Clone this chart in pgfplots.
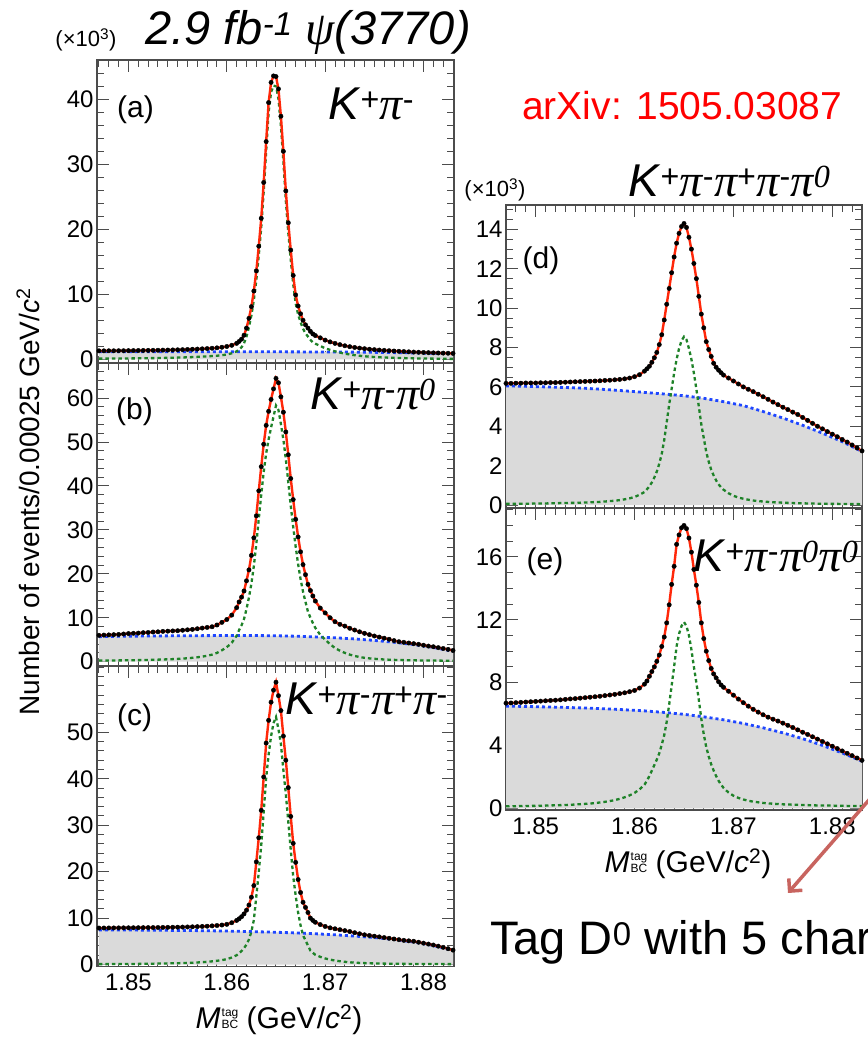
\documentclass[border=0pt]{standalone}
\usepackage{fontspec}
\setmainfont{Liberation Sans}
\newfontfamily\serif{Liberation Serif}
\usepackage{pgfplots}
\pgfplotsset{compat=1.18}
\usepackage{pgfplotstable}
\usetikzlibrary{arrows.meta}

\definecolor{fitred}{RGB}{255,40,10}
\definecolor{bkgblue}{RGB}{30,70,255}
\definecolor{siggreen}{RGB}{30,130,40}
\definecolor{bkgfill}{RGB}{218,218,218}
\definecolor{arxivred}{RGB}{255,0,0}
\definecolor{arrowred}{RGB}{200,100,95}

\newcommand{\sKp}{\textit{K}\textsuperscript{+}}
\newcommand{\spi}[1]{{\serif\itshape π}\textsuperscript{#1}}
\newcommand{\zr}{{\serif\itshape 0}}
\newcommand{\Mbc}{\textit{M}\kern1pt\makebox[0pt][l]{\raisebox{12pt}{\fontsize{12}{12}\selectfont tag}}{\fontsize{12}{12}\selectfont BC}}

% ---------------- panel (a) ----------------
\pgfplotstableread{
x R G
1.8470 1.30 0.10
1.8475 1.30 0.10
1.8480 1.31 0.11
1.8485 1.31 0.11
1.8490 1.32 0.12
1.8495 1.32 0.12
1.8500 1.33 0.13
1.8505 1.34 0.14
1.8510 1.35 0.15
1.8515 1.36 0.16
1.8520 1.37 0.17
1.8525 1.38 0.18
1.8530 1.39 0.19
1.8535 1.41 0.21
1.8540 1.42 0.22
1.8545 1.44 0.24
1.8550 1.46 0.26
1.8555 1.48 0.28
1.8560 1.51 0.31
1.8565 1.54 0.34
1.8570 1.57 0.37
1.8575 1.61 0.41
1.8580 1.65 0.45
1.8585 1.70 0.50
1.8590 1.76 0.55
1.8595 1.85 0.62
1.8600 1.97 0.74
1.8605 2.15 0.92
1.8610 2.45 1.22
1.86125 2.75 1.50
1.8615 3.10 1.85
1.86175 3.70 2.45
1.8620 4.80 3.50
1.86225 6.30 4.95
1.8625 8.10 6.75
1.86275 10.5 9.15
1.8630 13.6 12.2
1.86325 17.4 16.0
1.8635 21.7 20.3
1.86375 27.2 25.8
1.8640 33.5 32.0
1.86425 39.5 38.0
1.8645 42.6 41.1
1.86475 43.6 42.1
1.8650 43.5 42.0
1.86525 41.6 40.1
1.8655 37.4 35.9
1.86575 32.0 30.5
1.8660 25.9 24.4
1.86625 21.0 19.5
1.8665 16.8 15.3
1.86675 12.9 11.6
1.8670 9.9 8.6
1.86725 8.2 6.9
1.8675 7.0 5.7
1.86775 6.0 4.7
1.8680 5.3 4.0
1.86825 4.8 3.5
1.8685 4.3 3.0
1.86875 3.9 2.6
1.8690 3.65 2.40
1.8695 3.30 2.05
1.8700 2.95 1.70
1.8705 2.68 1.45
1.8710 2.45 1.22
1.8715 2.25 1.03
1.8720 2.08 0.87
1.8725 1.94 0.74
1.8730 1.82 0.63
1.8735 1.72 0.54
1.8740 1.63 0.47
1.8745 1.55 0.40
1.8750 1.48 0.35
1.8755 1.42 0.31
1.8760 1.37 0.28
1.8765 1.32 0.25
1.8770 1.27 0.22
1.8775 1.23 0.20
1.8780 1.19 0.18
1.8785 1.15 0.16
1.8790 1.11 0.14
1.8795 1.08 0.13
1.8800 1.05 0.12
1.8805 1.02 0.11
1.8810 0.99 0.10
1.8815 0.97 0.09
1.8820 0.95 0.08
1.8825 0.93 0.07
1.8830 0.91 0.06
}\Ta
\pgfplotstableread{
x B
1.847 1.18
1.849 1.18
1.851 1.18
1.853 1.17
1.855 1.17
1.857 1.17
1.859 1.16
1.861 1.16
1.863 1.16
1.865 1.15
1.867 1.14
1.869 1.13
1.871 1.12
1.873 1.10
1.875 1.07
1.877 1.03
1.879 0.98
1.881 0.93
1.883 0.87
}\Ba

% ---------------- panel (b) ----------------
\pgfplotstableread{
x R G
1.8470 6.00 0.25
1.8475 6.05 0.26
1.8480 6.10 0.27
1.8485 6.15 0.28
1.8490 6.20 0.29
1.8495 6.30 0.30
1.8500 6.40 0.31
1.8505 6.45 0.33
1.8510 6.50 0.35
1.8515 6.60 0.37
1.8520 6.65 0.40
1.8525 6.75 0.43
1.8530 6.80 0.46
1.8535 6.90 0.50
1.8540 6.95 0.54
1.8545 7.00 0.58
1.8550 7.05 0.63
1.8555 7.15 0.70
1.8560 7.25 0.78
1.8565 7.35 0.88
1.8570 7.50 1.00
1.8575 7.65 1.15
1.8580 7.80 1.35
1.8585 7.95 1.60
1.8590 8.35 2.00
1.8595 8.95 2.60
1.8600 9.60 3.30
1.8605 10.6 4.30
1.8610 12.3 5.90
1.86125 13.6 7.2
1.8615 14.7 8.3
1.86175 16.1 9.7
1.8620 18.4 12.0
1.86225 20.9 14.6
1.8625 24.2 17.8
1.86275 28.2 21.8
1.8630 33.2 26.8
1.86325 38.9 32.5
1.8635 44.4 38.0
1.86375 49.5 43.2
1.8640 53.8 47.4
1.86425 57.0 50.6
1.8645 59.7 53.3
1.86475 62.1 55.8
1.8650 64.5 58.3
1.86525 63.5 57.3
1.8655 60.3 54.1
1.86575 56.8 50.6
1.8660 52.3 46.1
1.86625 47.1 40.9
1.8665 41.7 35.5
1.86675 36.9 30.7
1.8670 32.4 26.2
1.86725 28.4 22.2
1.8675 25.0 18.8
1.86775 22.1 15.9
1.8680 19.8 13.6
1.86825 17.6 11.4
1.8685 16.2 10.0
1.86875 14.95 8.8
1.8690 13.8 7.7
1.8695 12.2 6.1
1.8700 11.1 5.0
1.8705 10.0 4.0
1.8710 9.1 3.1
1.8715 8.5 2.5
1.8720 8.1 2.0
1.8725 7.6 1.6
1.8730 7.2 1.30
1.8735 6.8 1.05
1.8740 6.45 0.88
1.8745 6.15 0.75
1.8750 5.85 0.65
1.8755 5.6 0.57
1.8760 5.35 0.50
1.8765 5.1 0.45
1.8770 4.8 0.41
1.8775 4.55 0.38
1.8780 4.4 0.35
1.8785 4.25 0.33
1.8790 4.1 0.31
1.8795 3.95 0.29
1.8800 3.75 0.27
1.8805 3.55 0.26
1.8810 3.4 0.25
1.8815 3.2 0.24
1.8820 3.0 0.23
1.8825 2.8 0.22
1.8830 2.55 0.21
}\Tb
\pgfplotstableread{
x B
1.847 5.70
1.849 5.77
1.851 5.82
1.853 5.86
1.855 5.90
1.857 5.92
1.859 5.94
1.861 5.95
1.863 5.95
1.865 5.90
1.867 5.80
1.869 5.64
1.871 5.44
1.873 5.18
1.875 4.84
1.877 4.42
1.879 3.90
1.881 3.25
1.883 2.38
}\Bb

% ---------------- panel (c) ----------------
\pgfplotstableread{
x R G
1.8470 7.85 0.08
1.8475 7.86 0.08
1.8480 7.87 0.09
1.8485 7.88 0.09
1.8490 7.89 0.10
1.8495 7.90 0.10
1.8500 7.91 0.11
1.8505 7.92 0.12
1.8510 7.93 0.13
1.8515 7.94 0.14
1.8520 7.95 0.16
1.8525 7.96 0.18
1.8530 7.97 0.20
1.8535 7.99 0.22
1.8540 8.00 0.24
1.8545 8.02 0.26
1.8550 8.04 0.28
1.8555 8.06 0.31
1.8560 8.09 0.35
1.8565 8.12 0.39
1.8570 8.16 0.44
1.8575 8.20 0.50
1.8580 8.25 0.58
1.8585 8.32 0.68
1.8590 8.40 0.80
1.8595 8.50 0.95
1.8600 8.65 1.15
1.8605 9.00 1.50
1.8610 9.50 2.00
1.86125 9.85 2.40
1.8615 10.3 2.90
1.86175 10.9 3.50
1.8620 11.7 4.30
1.86225 12.8 5.40
1.8625 14.5 7.10
1.86275 17.0 9.60
1.8630 22.1 14.7
1.86325 27.3 19.9
1.8635 33.2 25.7
1.86375 40.4 32.9
1.8640 47.7 40.2
1.86425 52.6 45.2
1.8645 56.5 49.2
1.86475 59.1 52.0
1.8650 60.8 53.3
1.86525 57.9 50.7
1.8655 54.7 47.5
1.86575 49.2 41.9
1.8660 44.0 36.7
1.86625 38.1 30.8
1.8665 31.9 24.7
1.86675 26.1 19.0
1.8670 22.0 14.9
1.86725 18.3 11.2
1.8675 15.5 8.4
1.86775 13.4 6.3
1.8680 12.3 5.2
1.86825 11.2 4.1
1.8685 10.0 3.0
1.86875 9.5 2.5
1.8690 9.10 2.10
1.8695 8.60 1.65
1.8700 8.20 1.30
1.8705 7.90 1.05
1.8710 7.70 0.85
1.8715 7.50 0.70
1.8720 7.30 0.58
1.8725 7.10 0.48
1.8730 6.85 0.40
1.8735 6.62 0.34
1.8740 6.40 0.30
1.8745 6.25 0.26
1.8750 6.10 0.23
1.8755 5.95 0.21
1.8760 5.80 0.19
1.8765 5.65 0.17
1.8770 5.50 0.16
1.8775 5.35 0.15
1.8780 5.20 0.14
1.8785 5.10 0.13
1.8790 5.00 0.12
1.8795 4.80 0.11
1.8800 4.60 0.11
1.8805 4.40 0.10
1.8810 4.20 0.10
1.8815 3.95 0.09
1.8820 3.70 0.09
1.8825 3.40 0.08
1.8830 3.10 0.08
}\Tc
\pgfplotstableread{
x B
1.847 7.45
1.849 7.43
1.851 7.41
1.853 7.38
1.855 7.34
1.857 7.30
1.859 7.24
1.861 7.16
1.863 7.06
1.865 6.95
1.867 6.80
1.869 6.62
1.871 6.40
1.873 6.12
1.875 5.80
1.877 5.40
1.879 4.85
1.881 4.10
1.883 3.05
}\Bc

% ---------------- panel (d) ----------------
\pgfplotstableread{
x R G
1.8470 6.18 0.06
1.8475 6.18 0.06
1.8480 6.19 0.06
1.8485 6.19 0.07
1.8490 6.20 0.07
1.8495 6.20 0.07
1.8500 6.20 0.08
1.8505 6.21 0.08
1.8510 6.21 0.08
1.8515 6.22 0.09
1.8520 6.22 0.09
1.8525 6.23 0.10
1.8530 6.24 0.10
1.8535 6.25 0.11
1.8540 6.26 0.11
1.8545 6.27 0.12
1.8550 6.28 0.13
1.8555 6.29 0.14
1.8560 6.30 0.15
1.8565 6.31 0.16
1.8570 6.33 0.18
1.8575 6.34 0.20
1.8580 6.36 0.22
1.8585 6.38 0.25
1.8590 6.41 0.29
1.8595 6.45 0.34
1.8600 6.52 0.41
1.8605 6.62 0.52
1.8610 6.80 0.66
1.86125 6.92 0.80
1.8615 7.05 0.95
1.86175 7.25 1.15
1.8620 7.48 1.40
1.86225 7.75 1.70
1.8625 8.15 2.10
1.86275 8.65 2.60
1.8630 9.40 3.30
1.86325 10.2 4.20
1.8635 11.0 5.10
1.86375 11.8 5.90
1.8640 12.6 6.70
1.86425 13.3 7.40
1.8645 13.8 7.95
1.86475 14.15 8.35
1.8650 14.3 8.55
1.86525 14.1 8.40
1.8655 13.6 7.95
1.86575 13.0 7.40
1.8660 12.27 6.70
1.86625 11.5 5.90
1.8665 10.6 5.00
1.86675 9.7 4.10
1.8670 9.0 3.40
1.86725 8.3 2.70
1.8675 7.9 2.20
1.86775 7.55 1.80
1.8680 7.2 1.50
1.86825 7.0 1.25
1.8685 6.85 1.05
1.86875 6.72 0.90
1.8690 6.60 0.78
1.8695 6.45 0.60
1.8700 6.30 0.47
1.8705 6.15 0.38
1.8710 6.00 0.32
1.8715 5.88 0.27
1.8720 5.76 0.23
1.8725 5.63 0.20
1.8730 5.50 0.18
1.8735 5.37 0.16
1.8740 5.23 0.14
1.8745 5.10 0.13
1.8750 4.97 0.12
1.8755 4.85 0.11
1.8760 4.72 0.10
1.8765 4.60 0.09
1.8770 4.45 0.09
1.8775 4.30 0.08
1.8780 4.15 0.08
1.8785 4.00 0.07
1.8790 3.87 0.07
1.8795 3.73 0.06
1.8800 3.60 0.06
1.8805 3.47 0.06
1.8810 3.33 0.05
1.8815 3.20 0.05
1.8820 3.05 0.05
1.8825 2.90 0.05
1.8830 2.75 0.04
}\Td
\pgfplotstableread{
x B
1.847 6.05
1.849 6.03
1.851 6.00
1.853 5.97
1.855 5.93
1.857 5.87
1.859 5.80
1.861 5.72
1.863 5.64
1.865 5.55
1.867 5.42
1.869 5.25
1.871 5.05
1.873 4.75
1.875 4.42
1.877 4.05
1.879 3.65
1.881 3.22
1.883 2.72
}\Bd

% ---------------- panel (e) ----------------
\pgfplotstableread{
x R G
1.8470 6.69 0.125
1.8475 6.70 0.13
1.8480 6.72 0.135
1.8485 6.74 0.14
1.8490 6.76 0.145
1.8495 6.78 0.15
1.8500 6.80 0.155
1.8505 6.82 0.16
1.8510 6.84 0.17
1.8515 6.86 0.18
1.8520 6.88 0.19
1.8525 6.90 0.20
1.8530 6.93 0.21
1.8535 6.96 0.22
1.8540 6.98 0.24
1.8545 7.01 0.26
1.8550 7.04 0.28
1.8555 7.07 0.30
1.8560 7.10 0.33
1.8565 7.13 0.37
1.8570 7.17 0.41
1.8575 7.21 0.46
1.8580 7.25 0.52
1.8585 7.30 0.60
1.8590 7.35 0.70
1.8595 7.42 0.82
1.8600 7.50 0.98
1.8605 7.65 1.20
1.8610 7.90 1.50
1.86125 8.10 1.75
1.8615 8.40 2.05
1.86175 8.70 2.40
1.8620 9.00 2.75
1.86225 9.35 3.10
1.8625 9.75 3.50
1.86275 10.3 4.05
1.8630 10.9 4.65
1.86325 11.8 5.50
1.8635 12.95 6.60
1.86375 14.25 7.80
1.8640 15.4 9.00
1.86425 16.8 10.3
1.8645 17.4 11.1
1.86475 17.85 11.6
1.8650 18.0 11.85
1.86525 17.8 11.6
1.8655 17.2 11.0
1.86575 16.3 10.1
1.8660 15.2 9.0
1.86625 14.2 8.0
1.8665 13.1 6.9
1.86675 11.8 5.7
1.8670 10.8 4.7
1.86725 10.0 3.9
1.8675 9.4 3.3
1.86775 8.9 2.8
1.8680 8.55 2.4
1.86825 8.3 2.05
1.8685 8.05 1.75
1.86875 7.85 1.5
1.8690 7.70 1.30
1.8695 7.45 1.00
1.8700 7.20 0.80
1.8705 6.95 0.66
1.8710 6.72 0.56
1.8715 6.50 0.48
1.8720 6.30 0.42
1.8725 6.12 0.38
1.8730 5.95 0.34
1.8735 5.80 0.31
1.8740 5.67 0.29
1.8745 5.55 0.27
1.8750 5.42 0.25
1.8755 5.28 0.24
1.8760 5.14 0.23
1.8765 4.99 0.22
1.8770 4.84 0.21
1.8775 4.70 0.20
1.8780 4.55 0.19
1.8785 4.40 0.18
1.8790 4.25 0.18
1.8795 4.10 0.17
1.8800 3.95 0.17
1.8805 3.80 0.16
1.8810 3.65 0.16
1.8815 3.50 0.15
1.8820 3.35 0.15
1.8825 3.20 0.15
1.8830 3.05 0.14
}\Te
\pgfplotstableread{
x B
1.847 6.50
1.849 6.48
1.851 6.45
1.853 6.42
1.855 6.38
1.857 6.33
1.859 6.27
1.861 6.20
1.863 6.10
1.865 5.98
1.867 5.82
1.869 5.63
1.871 5.40
1.873 5.12
1.875 4.80
1.877 4.43
1.879 4.00
1.881 3.52
1.883 3.00
}\Be

\pgfplotsset{
  panel/.style={
    scale only axis, anchor=south west,
    axis line style={draw=black!70, line width=1.2pt},
    tick style={black!70, line width=1pt},
    tick align=inside, xtick pos=both, ytick pos=both,
    major tick length=12pt, minor tick length=7pt,
    xtick={1.85,1.86,1.87,1.88},
    minor xtick={1.847,1.848,...,1.883},
    ticklabel style={font=\fontsize{24}{24}\selectfont, black},
    yticklabel style={/pgf/number format/assume math mode=true},
    xticklabel style={yshift=-4pt, /pgf/number format/.cd, fixed, fixed zerofill, precision=2, assume math mode=true},
    clip=true,
  },
  bfill/.style={fill=bkgfill, draw=none},
  bline/.style={bkgblue, line width=2.8pt, dash pattern=on 3pt off 3pt},
  gline/.style={siggreen, line width=2.3pt, dash pattern=on 3.5pt off 3pt},
  rline/.style={fitred, line width=2.4pt},
  dots/.style={only marks, mark=*, mark size=2.2pt, black},
}

\newcommand{\panelplots}[2]{%
  \addplot[bfill] table[x=x,y=B]{#2} \closedcycle;
  \addplot[bline] table[x=x,y=B]{#2};
  \addplot[gline] table[x=x,y=G]{#1};
  \addplot[dots] table[x=x,y=R]{#1};
  \addplot[rline] table[x=x,y=R]{#1};
}

\begin{document}
\begin{tikzpicture}[x=1pt,y=1pt]
\useasboundingbox (0,0) rectangle (868,1037);

% (a)
\begin{axis}[panel, at={(97pt,674pt)}, width=357pt, height=303pt,
  xmin=1.8468, xmax=1.8831, ymin=-0.57, ymax=46.05,
  ytick={0,10,20,30,40}, minor ytick={2,4,...,46}, xticklabels={}]
\panelplots{\Ta}{\Ba}
\end{axis}
% (b)
\begin{axis}[panel, at={(97pt,371.5pt)}, width=357pt, height=302.5pt,
  xmin=1.8468, xmax=1.8831, ymin=-0.87, ymax=68.0,
  ytick={0,10,20,30,40,50,60}, minor ytick={2,4,...,68}, xticklabels={}]
\panelplots{\Tb}{\Bb}
\end{axis}
% (c)
\begin{axis}[panel, at={(97pt,70.5pt)}, width=357pt, height=300.5pt,
  xmin=1.8468, xmax=1.8831, ymin=-0.43, ymax=64.3,
  ytick={0,10,20,30,40,50}, minor ytick={2,4,...,64}]
\panelplots{\Tc}{\Bc}
\end{axis}
% (d)
\begin{axis}[panel, at={(506pt,529pt)}, width=356pt, height=303pt,
  xmin=1.8470, xmax=1.8830, ymin=-0.15, ymax=15.24,
  ytick={0,2,4,6,8,10,12,14}, minor ytick={0.5,1,...,15}, xticklabels={}]
\panelplots{\Td}{\Bd}
\end{axis}
% (e)
\begin{axis}[panel, at={(506pt,227pt)}, width=356pt, height=301.5pt,
  xmin=1.8470, xmax=1.8830, ymin=-0.11, ymax=19.08,
  ytick={0,4,8,12,16}, minor ytick={1,2,...,19}]
\panelplots{\Te}{\Be}
\end{axis}

% texts
\node[anchor=base, font=\fontsize{47}{47}\selectfont\itshape] at (308,992)
  {2.9 fb\textsuperscript{-1} {\serif ψ}(3770)};
\node[font=\fontsize{22}{22}\selectfont] at (86,997) {(×10\textsuperscript{3})};
\node[font=\fontsize{22}{22}\selectfont] at (495,847) {(×10\textsuperscript{3})};
\node[anchor=base west, inner sep=0pt, font=\fontsize{39}{39}\selectfont, text=arxivred] at (522,917) {arXiv: 1505.03087};

\node[font=\fontsize{30}{30}\selectfont] at (135.5,927) {(a)};
\node[font=\fontsize{30}{30}\selectfont] at (134.5,625) {(b)};
\node[font=\fontsize{30}{30}\selectfont] at (134.5,319) {(c)};
\node[font=\fontsize{30}{30}\selectfont] at (541,776) {(d)};
\node[font=\fontsize{30}{30}\selectfont] at (545,475) {(e)};

\node[anchor=base west, inner sep=0pt, font=\fontsize{46}{46}\selectfont] at (328,917) {\sKp\spi{-}};
\node[anchor=base west, inner sep=0pt, font=\fontsize{46}{46}\selectfont] at (310,627) {\sKp\spi{-}\spi{\zr}};
\node[anchor=base west, inner sep=0pt, font=\fontsize{46}{46}\selectfont] at (285,322) {\sKp\spi{-}\spi{+}\spi{-}};
\node[anchor=base west, inner sep=0pt, font=\fontsize{46}{46}\selectfont] at (628,840) {\sKp\spi{-}\spi{+}\spi{-}\spi{\zr}};
\node[anchor=base west, inner sep=0pt, font=\fontsize{46}{46}\selectfont] at (693,465) {\sKp\spi{-}\spi{\zr}\spi{\zr}};

\node[rotate=90, font=\fontsize{28}{28}\selectfont] at (28,535)
  {Number of events/0.00025 GeV/\textit{c}\textsuperscript{2}};
\node[font=\fontsize{30}{30}\selectfont] at (279,17) {\Mbc\ (GeV/\textit{c}\textsuperscript{2})};
\node[font=\fontsize{30}{30}\selectfont] at (688,173) {\Mbc\ (GeV/\textit{c}\textsuperscript{2})};

\node[anchor=base west, inner sep=0pt, font=\fontsize{47}{47}\selectfont] at (490,82) {Tag D\textsuperscript{0} with 5 charged};
\draw[arrowred, line width=3.5pt, -{Straight Barb[length=9pt, width=18pt]}] (882,252) -- (788,144);
\end{tikzpicture}
\end{document}
